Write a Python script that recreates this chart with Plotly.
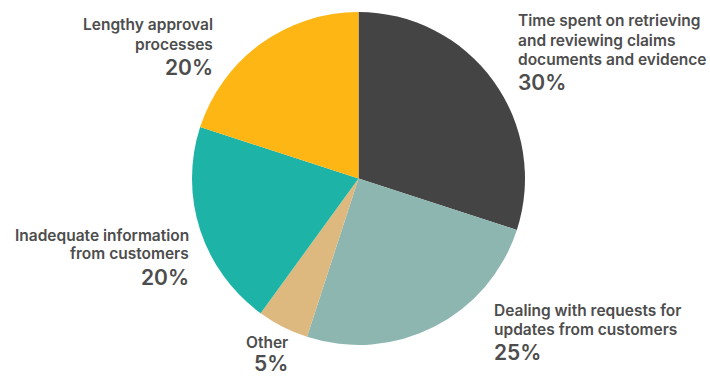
import plotly.graph_objects as go

# Causes of delay in claims handling (share of respondents, %)
causes = [
    "Time spent on retrieving and reviewing claims documents and evidence",
    "Dealing with requests for updates from customers",
    "Other",
    "Inadequate information from customers",
    "Lengthy approval processes",
]
shares = [30, 25, 5, 20, 20]
slice_colors = ["#444444", "#8DB6B0", "#DDB97F", "#1DB3A6", "#FDB614"]

# Label text broken into display lines, one entry per cause
label_lines = [
    ["Time spent on retrieving", "and reviewing claims", "documents and evidence"],
    ["Dealing with requests for", "updates from customers"],
    ["Other"],
    ["Inadequate information", "from customers"],
    ["Lengthy approval", "processes"],
]

W, H = 710, 376
TEXT = "#4d4d4d"
FONT = "Inter"

fig = go.Figure(
    go.Pie(
        labels=causes,
        values=shares,
        marker=dict(colors=slice_colors, line=dict(width=0)),
        sort=False,
        direction="clockwise",
        rotation=0,
        textinfo="none",
        hoverinfo="label+percent",
        domain=dict(x=[192 / W, 525 / W], y=[(H - 345) / H, (H - 12) / H]),
        showlegend=False,
    )
)

# Label block placement: x anchor (px), centre of first line (px), gap to the
# percentage line (px), side
label_place = [
    (517, 21, 23, "left"),
    (493, 310, 23, "left"),
    (289, 342, 21, "right"),
    (190, 235, 23, "right"),
    (214, 25, 23, "right"),
]

LINE = 19
for lines, share, (px, py, gap, side) in zip(label_lines, shares, label_place):
    for i, ln in enumerate(lines):
        fig.add_annotation(
            x=px / W, y=1 - (py + i * LINE) / H, xref="paper", yref="paper",
            xanchor=side, yanchor="middle", text=ln, showarrow=False,
            align=side, borderpad=0,
            font=dict(family=FONT, size=15.5, color=TEXT, weight=600),
        )
    fig.add_annotation(
        x=px / W, y=1 - (py + (len(lines) - 1) * LINE + gap) / H,
        xref="paper", yref="paper",
        xanchor=side, yanchor="middle", text=f"{share}%", showarrow=False,
        align=side, borderpad=0,
        font=dict(family=FONT, size=21, color=TEXT, weight=600),
    )

fig.update_layout(
    width=W, height=H,
    margin=dict(l=0, r=0, t=0, b=0),
    paper_bgcolor="white",
    plot_bgcolor="white",
)

fig.write_html("out.html")
